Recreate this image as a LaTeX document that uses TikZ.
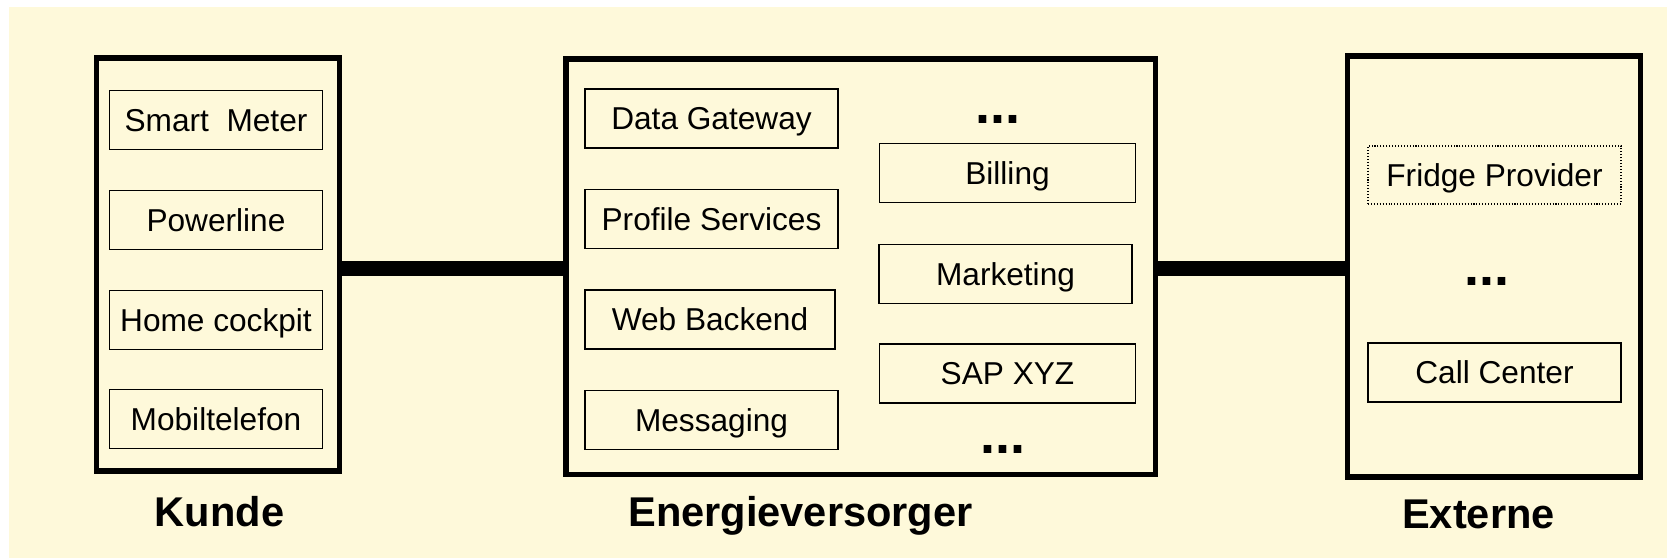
\documentclass[tikz,border=0pt]{standalone}
\usepackage{fontspec}
\setmainfont{Liberation Sans}
\definecolor{cream}{RGB}{254, 249, 218}
\usetikzlibrary{positioning, calc}
\newcommand{\px}{0.3mm}
\newcommand{\compfont}{\fontsize{27}{32}\selectfont}
\newcommand{\labelfont}{\fontsize{35.5}{42}\selectfont\bfseries}
\newcommand{\dotsfont}{\fontsize{46}{50}\selectfont\bfseries}
\tikzset{
  partbox/.style={rectangle, draw=black, line width=4.7pt, inner sep=0pt},
  compbox/.style={rectangle, draw=black, line width=1.2pt, inner sep=0pt, minimum width=253*\px, minimum height=59*\px, text height=19.3pt, text depth=0pt, font=\compfont},
  dotbox/.style={compbox, line width=0.9pt, dash pattern=on 0.9pt off 1.6pt},
  grouplabel/.style={anchor=base, inner sep=0pt, font=\labelfont},
  moredots/.style={inner sep=0pt, font=\dotsfont},
  link/.style={draw=black, line width=13.6pt},
}
\begin{document}
\begin{tikzpicture}[x=\px, y=-\px]
\useasboundingbox (0,0) rectangle (1667,559);
\fill[cream] (9,7) rectangle (1667,558);

% Kunde
\node[partbox, minimum width=243*\px, minimum height=413*\px] (kunde) at (218,264.5) {};
\node[compbox, minimum width=213*\px] (meter) at (216,120) {Smart\ \ Meter};
\node[compbox, minimum width=213*\px] (powerline) at (216,220) {Powerline};
\node[compbox, minimum width=213*\px] (cockpit) at (216,320) {Home cockpit};
\node[compbox, minimum width=213*\px] (mobil) at (216,419) {Mobiltelefon};
\node[grouplabel] (kundelabel) at (219.5,526) {Kunde};

% Energieversorger
\node[partbox, minimum width=589.5*\px, minimum height=415.5*\px] (ev) at (860.75,266.75) {};
\node[compbox] (gateway) at (711.5,118.5) {Data Gateway};
\node[compbox] (profile) at (711.5,219) {Profile Services};
\node[compbox, minimum width=250*\px] (backend) at (710,319.5) {Web Backend};
\node[compbox] (messaging) at (711.5,420) {Messaging};
\node[moredots] (evdotstop) at (997.5,119.5) {...};
\node[compbox, minimum width=256*\px] (billing) at (1007.5,173) {Billing};
\node[compbox] (marketing) at (1005.5,274) {Marketing};
\node[compbox, minimum width=256*\px] (sap) at (1007.5,373.5) {SAP XYZ};
\node[moredots] (evdotsbottom) at (1003,449.5) {...};
\node[grouplabel] (evlabel) at (800.5,526) {Energieversorger};

% Externe
\node[partbox, minimum width=293*\px, minimum height=421*\px] (extern) at (1494,266.5) {};
\node[dotbox, minimum height=58*\px] (fridge) at (1494.5,175) {Fridge Provider};
\node[moredots] (externdots) at (1486.5,281.5) {...};
\node[compbox] (callcenter) at (1494.5,372.5) {Call Center};
\node[grouplabel] (externlabel) at (1478.5,528) {Externe};

% Verbindungen
\coordinate (linky) at (0,268.5);
\draw[link] (kunde.east |- linky) -- (ev.west |- linky);
\draw[link] (ev.east |- linky) -- (extern.west |- linky);
\end{tikzpicture}
\end{document}
